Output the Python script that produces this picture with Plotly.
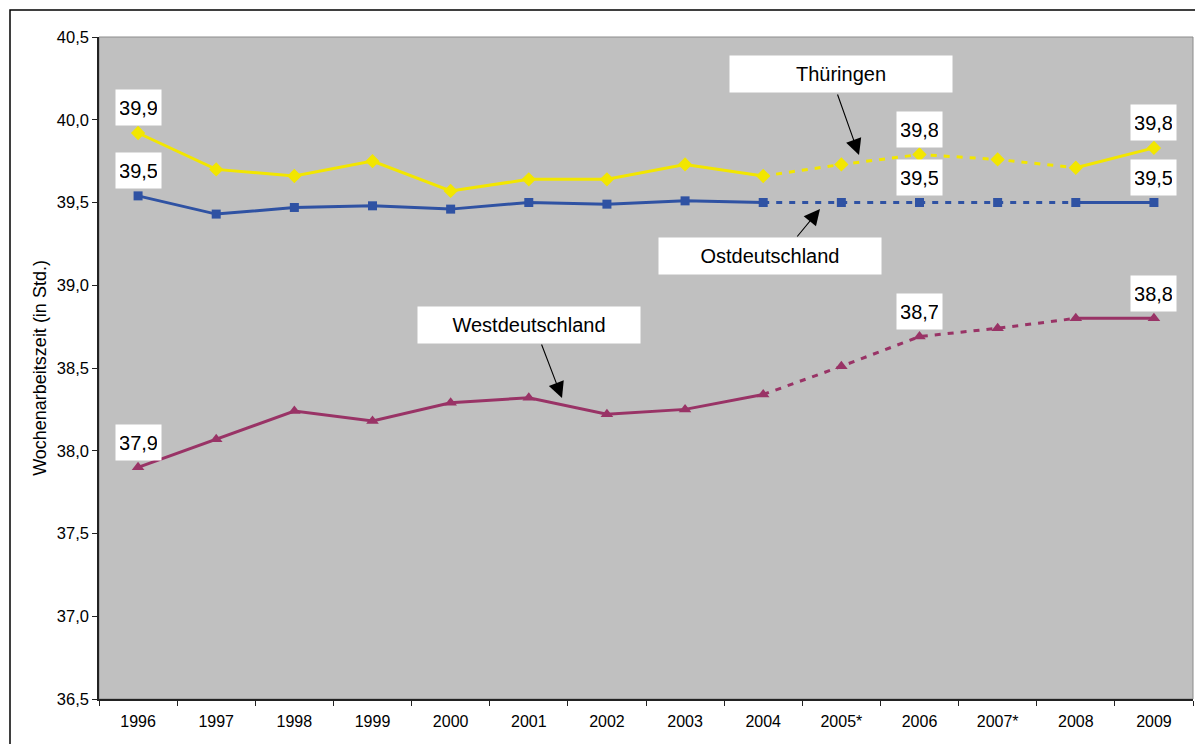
import plotly.graph_objects as go

years = ["1996", "1997", "1998", "1999", "2000", "2001", "2002", "2003", "2004",
         "2005*", "2006", "2007*", "2008", "2009"]
thueringen = [39.92, 39.70, 39.66, 39.75, 39.57, 39.64, 39.64, 39.73, 39.66,
              39.73, 39.79, 39.76, 39.71, 39.83]
ostdeutschland = [39.54, 39.43, 39.47, 39.48, 39.46, 39.50, 39.49, 39.51, 39.50,
                  39.50, 39.50, 39.50, 39.50, 39.50]
westdeutschland = [37.90, 38.07, 38.24, 38.18, 38.29, 38.32, 38.22, 38.25, 38.34,
                   38.51, 38.69, 38.74, 38.80, 38.80]
labelled_years = ["1996", "2006", "2009"]

# segments: (start index, end index, dash)
segments = [(0, 8, "solid"), (8, 12, "6px,7px"), (12, 13, "solid")]

W, H = 1195, 744
L, T, R, B = 99, 37, 2, 45
PW, PH = W - L - R, H - T - B
YMIN, YMAX = 36.5, 40.5


def px_x(px):
    return (px - L) / PW


def px_y(py):
    return (H - B - py) / PH


FONT = "Arial, 'Liberation Sans', sans-serif"
fig = go.Figure()

series = [
    ("Thüringen", thueringen, "#F2E600", "diamond", 11),
    ("Ostdeutschland", ostdeutschland, "#2F52A3", "square", 9),
    ("Westdeutschland", westdeutschland, "#993366", "triangle-up", 11),
]

for name, vals, col, sym, msz in series:
    for s, e, dash in segments:
        yv = [v if s <= i <= e else None for i, v in enumerate(vals)]
        fig.add_trace(go.Scatter(x=years, y=yv, mode="lines",
                                 line=dict(color=col, width=3, dash=dash),
                                 showlegend=False, hoverinfo="skip"))
    fig.add_trace(go.Scatter(x=years, y=vals, mode="markers",
                             marker=dict(color=col, symbol=sym, size=msz),
                             showlegend=False, name=name))

annotations = []
# data labels
for name, vals, col, sym, msz in series:
    for yr in labelled_years:
        i = years.index(yr)
        v = vals[i]
        annotations.append(dict(
            x=i, y=v, xref="x", yref="y", showarrow=False,
            text=f"{v:.1f}".replace(".", ","), yshift=25,
            font=dict(family=FONT, size=20, color="black"),
            bgcolor="white", borderpad=4, width=37, height=27))

# series name boxes
boxes = [("Thüringen", 841, 74.5), ("Ostdeutschland", 769.5, 255.5),
         ("Westdeutschland", 528.5, 324.5)]
for txt, cx, cy in boxes:
    annotations.append(dict(
        x=px_x(cx), y=px_y(cy), xref="paper", yref="paper", showarrow=False,
        text=txt, font=dict(family=FONT, size=20, color="black"),
        bgcolor="white", borderpad=5, width=212, height=26,
        xanchor="center", yanchor="middle"))

# arrows: (tail px, tip px)
arrows = [((837, 93), (859, 155)), ((796, 238), (820, 209)),
          ((541, 343), (562, 398))]
for (tx, ty), (hx, hy) in arrows:
    annotations.append(dict(
        x=px_x(hx), y=px_y(hy), xref="paper", yref="paper",
        ax=tx - hx, ay=ty - hy, text="", showarrow=True,
        arrowhead=2, arrowsize=2.9, arrowwidth=1.1, arrowcolor="black"))

shapes = [
    # outer chart frame
    dict(type="rect", xref="paper", yref="paper",
         x0=px_x(10), x1=px_x(1210), y0=px_y(760), y1=px_y(10),
         line=dict(color="black", width=1.5), layer="below"),
    # plot area frame
    dict(type="rect", xref="paper", yref="paper", x0=0, x1=1, y0=0, y1=1,
         line=dict(color="#8c8c8c", width=1), layer="below"),
]

fig.update_layout(
    width=W, height=H,
    margin=dict(l=L, r=R, t=T, b=B, autoexpand=False),
    paper_bgcolor="white", plot_bgcolor="#C0C0C0",
    separators=",.",
    font=dict(family=FONT, size=16, color="black"),
    annotations=annotations, shapes=shapes,
    xaxis=dict(type="category", categoryorder="array", categoryarray=years,
               range=[-0.5, 13.5], showgrid=False, zeroline=False,
               showline=True, linecolor="#222222", linewidth=1.5,
               ticks="outside", tickson="boundaries", ticklen=5,
               tickcolor="#222222", tickfont=dict(size=16),
               ticklabelstandoff=7),
    yaxis=dict(range=[YMIN, YMAX], dtick=0.5, tick0=36.5, tickformat=".1f",
               showgrid=False, zeroline=False,
               showline=True, linecolor="#222222", linewidth=1.5,
               ticks="outside", ticklen=5, tickcolor="#222222",
               tickfont=dict(size=16.5),
               title=dict(text="Wochenarbeitszeit (in Std.)",
                          font=dict(size=18), standoff=6)),
)

fig.write_html("out.html", config={"displayModeBar": False},
               post_script="document.body.style.margin='0px';"
                           "document.body.style.overflow='hidden';")
